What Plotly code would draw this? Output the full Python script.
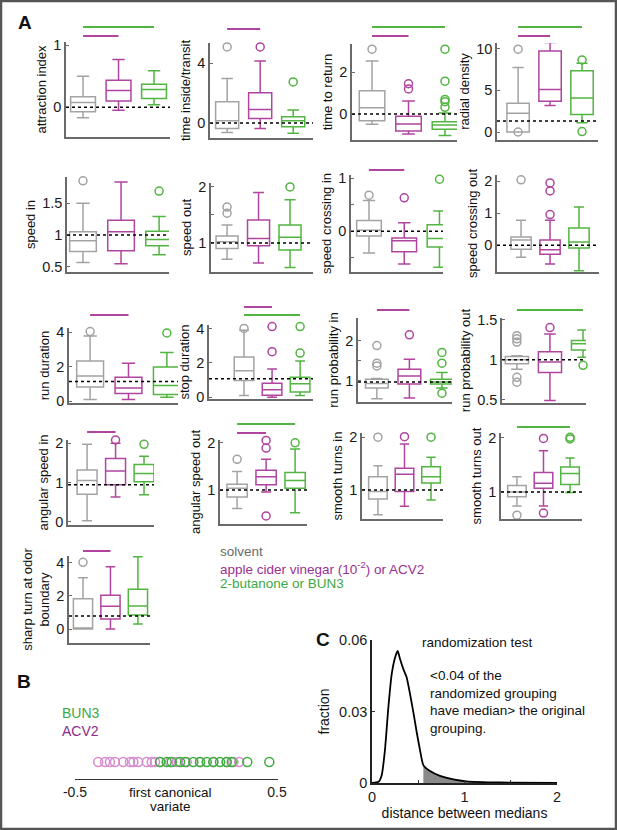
import plotly.graph_objects as go

W, H = 617, 830
GROUP_COLORS = ["#a3a3a3", "#b0449f", "#52b441"]
AXIS_GRAY = "#6a6a6a"
FONT = "Liberation Sans, Arial, sans-serif"

# ---------------- data ----------------
# box statistics per group: [solvent, ACV2, BUN3]
attraction_index = dict(lo=[-0.17, -0.05, 0.04], q1=[-0.075, 0.10, 0.14], med=[0.075, 0.27, 0.285],
                        q3=[0.17, 0.435, 0.37], hi=[0.50, 0.77, 0.585], out=[[], [], []], ref=0)
time_inside = dict(lo=[-0.64, -0.36, -0.69], q1=[-0.36, 0.31, -0.24], med=[0.16, 0.91, 0.16],
                   q3=[1.42, 2.02, 0.42], hi=[2.98, 4.15, 0.87], out=[[5.09], [5.09], [2.75]], ref=0)
time_to_return = dict(lo=[-0.49, -0.95, -1.03], q1=[-0.32, -0.81, -0.73], med=[0.30, -0.48, -0.52],
                      q3=[1.11, -0.10, -0.37], hi=[2.54, 0.63, 0.05],
                      out=[[3.1], [1.45, 1.2], [3.1, 1.57, 0.7, 0.59, 0.32]], ref=0)
radial_density = dict(lo=[0, 3.2, 1.1], q1=[0, 3.7, 2.1], med=[2.25, 5.1, 4.1], q3=[3.45, 9.75, 7.35],
                      hi=[7.75, 10.75, 8.28], out=[[9.96, 0], [], [8.67, 0.05]], ref=1.33)
speed_in = dict(lo=[0.57, 0.55, 0.69], q1=[0.74, 0.755, 0.83], med=[0.91, 1.05, 0.93],
                q3=[1.05, 1.23, 1.06], hi=[1.5, 1.83, 1.29], out=[[1.85], [], [1.69]], ref=1)
speed_out = dict(lo=[0.71, 0.64, 0.56], q1=[0.90, 0.95, 0.875], med=[1.02, 1.08, 1.10],
                 q3=[1.125, 1.41, 1.32], hi=[1.32, 1.90, 1.77], out=[[1.64, 1.53], [2.08], [2.0]], ref=1)
speed_crossing_in = dict(lo=[-0.41, -0.62, -0.68], q1=[-0.09, -0.39, -0.30], med=[0.02, -0.18, -0.14],
                         q3=[0.20, -0.13, 0.12], hi=[0.58, 0.16, 0.38], out=[[0.68], [0.63], [0.98]], ref=0)
speed_crossing_out = dict(lo=[-0.38, -0.59, -0.80], q1=[-0.13, -0.28, -0.09], med=[0.16, -0.14, 0.10],
                          q3=[0.26, 0.16, 0.54], hi=[0.78, 0.78, 1.20],
                          out=[[2.05], [1.95, 1.70, 0.96], []], ref=0)
run_duration = dict(lo=[0.11, 0.11, 0.24], q1=[0.83, 0.45, 0.39], med=[1.47, 0.77, 0.92],
                    q3=[2.33, 1.39, 1.99], hi=[3.79, 2.21, 2.83], out=[[4.04], [], [3.96]], ref=1.14)
stop_duration = dict(lo=[0.11, 0.0, 0.11], q1=[0.97, 0.12, 0.30], med=[1.54, 0.44, 0.78],
                     q3=[2.34, 0.81, 1.16], hi=[3.9, 1.64, 2.11],
                     out=[[4.0], [4.11, 2.65], [4.11, 2.57]], ref=1.07)
run_prob_in = dict(lo=[0.55, 0.57, 0.82], q1=[0.82, 0.92, 0.92], med=[0.93, 1.12, 0.97],
                   q3=[1.04, 1.29, 1.04], hi=[1.06, 1.54, 1.21],
                   out=[[1.88, 1.44, 1.37], [2.15], [1.71, 1.44, 0.69]], ref=0.97)
run_prob_out = dict(lo=[0.88, 0.49, 1.03], q1=[0.95, 0.84, 1.12], med=[1.0, 0.97, 1.2],
                    q3=[1.04, 1.10, 1.24], hi=[1.05, 1.32, 1.37],
                    out=[[1.30, 1.26, 1.22, 0.78, 0.72], [1.40], [0.93]], ref=1)
angular_speed_in = dict(lo=[0.03, 0.63, 0.69], q1=[0.70, 0.94, 1.02], med=[1.05, 1.29, 1.23],
                        q3=[1.32, 1.61, 1.46], hi=[1.97, 2.0, 1.67], out=[[], [2.08], [1.97]], ref=0.94)
angular_speed_out = dict(lo=[0.61, 0.96, 0.52], q1=[0.85, 1.11, 1.04], med=[1.04, 1.28, 1.2],
                         q3=[1.12, 1.42, 1.37], hi=[1.39, 1.65, 1.87],
                         out=[[1.65], [2.05, 1.89, 0.45], [2.0]], ref=1)
smooth_turns_in = dict(lo=[0.53, 0.69, 0.81], q1=[0.83, 0.97, 1.13], med=[0.97, 1.3, 1.25],
                       q3=[1.25, 1.41, 1.44], hi=[1.46, 1.87, 1.62], out=[[2.0], [2.01], [2.0]], ref=1)
smooth_turns_out = dict(lo=[0.74, 0.74, 0.99], q1=[0.91, 1.07, 1.14], med=[1.0, 1.16, 1.34],
                        q3=[1.12, 1.36, 1.46], hi=[1.28, 1.76, 1.63],
                        out=[[0.57], [1.99, 0.61], [2.01, 1.98]], ref=1)
sharp_turn = dict(lo=[0, 0, 0.3], q1=[0, 0.6, 0.84], med=[0, 1.37, 1.39], q3=[1.83, 2.03, 2.39],
                  hi=[3.09, 3.76, 4.36], out=[[4.02], [], []], ref=0.78)

# panel B: first canonical variate per animal
cv_acv2 = [-0.385, -0.351, -0.327, -0.302, -0.261, -0.228, -0.211, -0.187, -0.145, -0.120,
           -0.104, -0.079, -0.030, 0.003, 0.053, 0.119, 0.185, 0.251, 0.284, 0.313]
cv_bun3 = [-0.079, -0.046, -0.021, 0.020, 0.045, 0.086, 0.119, 0.152, 0.185, 0.218,
           0.251, 0.276, 0.353, 0.462]

# panel C: randomization distribution
dist_x = [0, 0.07, 0.105, 0.14, 0.177, 0.213, 0.249, 0.278, 0.303, 0.339, 0.375, 0.411,
          0.447, 0.483, 0.519, 0.555, 0.627, 0.735, 0.879, 1.02, 1.38, 2.0]
dist_frac = [0, 0.0005, 0.0033, 0.0138, 0.0318, 0.0457, 0.0526, 0.0554, 0.052, 0.0478, 0.0443,
             0.0374, 0.0297, 0.0214, 0.0138, 0.0075, 0.005, 0.003, 0.0015, 0.0007, 0.0002, 0]
observed_distance = 0.555

# ---------------- panel layout (pixel boxes: x0, x1, ytop, ybottom) ----------------
PANELS = [
    ("attraction index", attraction_index, (66, 170, 42, 137), (0.52, 3.45), (-0.48, 1.05), [0, 1], None, [(2, 27), (1, 36)]),
    ("time inside/transit", time_inside, (210, 313, 43, 138), (0.48, 3.6), (-1.0, 5.35), [0, 4], None, [(1, 29)]),
    ("time to return", time_to_return, (352, 457, 44, 140), (0.45, 3.33), (-1.24, 3.35), [0, 2], None, [(2, 27), (1, 36)]),
    ("radial density", radial_density, (497, 598, 43, 140), (0.34, 3.5), (-0.96, 10.7), [0, 5, 10], None, [(2, 27), (1, 36)]),
    ("speed in", speed_in, (67, 169, 177, 272), (0.58, 3.26), (0.42, 1.91), [0.5, 1, 1.5], None, []),
    ("speed out", speed_out, (211, 313, 183, 272), (0.49, 3.73), (0.48, 2.07), [1, 1.5, 2], ["1", " ", "2"], []),
    ("speed crossing in", speed_crossing_in, (351, 443, 175, 272), (0.49, 3.1), (-0.77, 1.06), [-0.5, 0, 0.5, 1], [" ", "0", " ", "1"], [(1, 170)]),
    ("speed crossing out", speed_crossing_out, (497, 599, 175, 272), (0.17, 3.69), (-0.84, 2.2), [0, 1, 2], None, []),
    ("run duration", run_duration, (69, 178, 328, 403), (0.45, 3.29), (-0.1, 4.25), [0, 2, 4], None, [(1, 315)]),
    ("stop duration", stop_duration, (209, 313, 325, 399), (-0.25, 3.46), (-0.1, 4.2), [0, 2, 4], None, [(1, 307), (2, 315)]),
    ("run probability in", run_prob_in, (358, 452, 318, 402), (0.42, 3.31), (0.47, 2.57), [1, 1.5, 2], ["1", " ", "2"], [(1, 310)]),
    ("run probability out", run_prob_out, (502, 586, 318, 403), (0.55, 3.09), (0.46, 1.52), [0.5, 1, 1.5], None, [(2, 310)]),
    ("angular speed in", angular_speed_in, (68, 154, 440, 525), (0.33, 3.35), (-0.08, 2.08), [0, 1, 2], None, [(1, 432)]),
    ("angular speed out", angular_speed_out, (220, 307, 440, 524), (0.41, 3.41), (0.28, 2.06), [1, 2], None, [(2, 424), (1, 433)]),
    ("smooth turns in", smooth_turns_in, (362, 443, 433, 519), (0.4, 3.45), (0.45, 2.08), [1, 2], None, []),
    ("smooth turns out", smooth_turns_out, (501, 582, 433, 519), (0.4, 3.45), (0.5, 2.09), [1, 2], None, [(2, 427)]),
    ("sharp turn at odor<br>boundary", sharp_turn, (69, 150, 556, 643), (0.49, 3.44), (-0.84, 4.4), [0, 2, 4], None, [(1, 551)]),
]


def px_x(p):
    return p / W


def px_y(p):
    return 1 - p / H


def ax_names(k):
    s = "" if k == 1 else str(k)
    return "x" + s, "y" + s, "xaxis" + s, "yaxis" + s


fig = go.Figure()
shapes, annotations, axes = [], [], {}

for k, (title, st, dom, xr, yr, tv, tt, sig) in enumerate(PANELS, start=1):
    xa, ya, xkey, ykey = ax_names(k)
    for g in range(3):
        fig.add_trace(go.Box(
            x=[g + 1], q1=[st["q1"][g]], median=[st["med"][g]], q3=[st["q3"][g]],
            lowerfence=[st["lo"][g]], upperfence=[st["hi"][g]], width=0.7,
            line=dict(color=GROUP_COLORS[g], width=1.5), fillcolor="rgba(0,0,0,0)",
            whiskerwidth=0.5, boxpoints=False, xaxis=xa, yaxis=ya, hoverinfo="skip"))
        if st["out"][g]:
            fig.add_trace(go.Scatter(
                x=[g + 1] * len(st["out"][g]), y=st["out"][g], mode="markers", cliponaxis=False,
                marker=dict(symbol="circle-open", size=8, color=GROUP_COLORS[g], line=dict(width=1.5)),
                xaxis=xa, yaxis=ya, hoverinfo="skip"))
    x0, x1, yt, yb = dom
    axes[xkey] = dict(domain=[px_x(x0), px_x(x1)], range=list(xr), anchor=ya, showticklabels=False,
                      ticks="", showline=True, linecolor=AXIS_GRAY, linewidth=1.5, zeroline=False,
                      showgrid=False, automargin=False, fixedrange=True)
    axes[ykey] = dict(domain=[px_y(yb), px_y(yt)], range=list(yr), anchor=xa, tickvals=tv,
                      ticktext=tt if tt else [("%g" % v) for v in tv],
                      ticks="inside", ticklen=3, tickcolor=AXIS_GRAY, showline=True, linecolor=AXIS_GRAY,
                      linewidth=1.5, zeroline=False, showgrid=False, automargin=False,
                      tickfont=dict(size=14.5, color="#1a1a1a"),
                      title=dict(text=title, font=dict(size=13, color="#111"), standoff=4))
    shapes.append(dict(type="line", xref=xa + " domain", x0=0, x1=1, yref=ya, y0=st["ref"], y1=st["ref"],
                       line=dict(color="black", width=1.5, dash="3px,3px")))
    for j, py in sig:
        shapes.append(dict(type="line", xref=xa, x0=1, x1=j + 1, yref="paper", y0=px_y(py), y1=px_y(py),
                           line=dict(color=GROUP_COLORS[j], width=2)))

# ---------------- panel B ----------------
kB = 18
xa, ya, xkey, ykey = ax_names(kB)
fig.add_trace(go.Scatter(x=cv_acv2, y=[0.5] * len(cv_acv2), mode="markers", cliponaxis=False,
                         marker=dict(symbol="circle-open", size=9, color="#d48ccf", line=dict(width=1.5)),
                         xaxis=xa, yaxis=ya, hoverinfo="skip"))
fig.add_trace(go.Scatter(x=cv_bun3, y=[0.5] * len(cv_bun3), mode="markers", cliponaxis=False,
                         marker=dict(symbol="circle-open", size=9, color="#3cae3c", line=dict(width=1.5)),
                         xaxis=xa, yaxis=ya, hoverinfo="skip"))
axes[xkey] = dict(domain=[px_x(75), px_x(278)], range=[-0.5, 0.505], anchor=ya, tickvals=[-0.5, 0.5],
                  ticktext=["-0.5", "0.5"], ticks="", showline=True, linecolor="#333", linewidth=1.2,
                  zeroline=False, showgrid=False, automargin=False, tickfont=dict(size=14, color="#1a1a1a"))
axes[ykey] = dict(domain=[px_y(779), px_y(745)], range=[0, 1], anchor=xa, visible=False)

# ---------------- panel C ----------------
kC = 19
xa, ya, xkey, ykey = ax_names(kC)
shade_x = [x for x in dist_x if x >= observed_distance]
shade_y = [y for x, y in zip(dist_x, dist_frac) if x >= observed_distance]
fig.add_trace(go.Scatter(x=shade_x, y=shade_y, mode="lines", fill="tozeroy", fillcolor="#8a8a8a",
                         line=dict(width=0, color="#8a8a8a"), xaxis=xa, yaxis=ya, hoverinfo="skip"))
fig.add_trace(go.Scatter(x=dist_x, y=dist_frac, mode="lines", line=dict(color="black", width=1.8,
                         shape="spline", smoothing=0.5), xaxis=xa, yaxis=ya, hoverinfo="skip"))
axes[xkey] = dict(domain=[px_x(372), px_x(557)], range=[0, 2], anchor=ya, tickvals=[0, 0.5, 1, 1.5, 2],
                  ticktext=["0", " ", "1", " ", "2"], ticks="inside", ticklen=3, tickcolor="#333",
                  showline=True, linecolor="#222", linewidth=1.5, zeroline=False, showgrid=False,
                  automargin=False, tickfont=dict(size=14.5, color="#1a1a1a"),
                  title=dict(text="distance between medians", font=dict(size=14, color="#111"), standoff=0))
axes[ykey] = dict(domain=[px_y(783), px_y(640)], range=[0, 0.06], anchor=xa, tickvals=[0, 0.03, 0.06],
                  ticktext=["0", "0.03", "0.06"], ticks="inside", ticklen=3, tickcolor="#333",
                  showline=True, linecolor="#222", linewidth=1.5, zeroline=False, showgrid=False,
                  automargin=False, tickfont=dict(size=14.5, color="#1a1a1a"),
                  title=dict(text="fraction", font=dict(size=14, color="#111"), standoff=6))


def note(text, x, y, size=13, color="#111", xanchor="left", yanchor="middle", bold=False, align="left"):
    annotations.append(dict(text=("<b>%s</b>" % text) if bold else text, x=px_x(x), y=px_y(y),
                            xref="paper", yref="paper", xanchor=xanchor, yanchor=yanchor, align=align,
                            showarrow=False, font=dict(size=size, color=color, family=FONT)))


note("A", 16, 22, size=19, bold=True)
note("B", 15, 681, size=19, bold=True)
note("C", 314, 639, size=19, bold=True)

note("solvent", 218, 551, size=13.5, color="#6b6b6b")
note("apple cider vinegar (10<sup>-2</sup>) or ACV2", 218, 568, size=13.5, color="#9a3092")
note("2-butanone or BUN3", 218, 583, size=13.5, color="#3ea83f")

note("BUN3", 60, 713, size=14, color="#3ea83f")
note("ACV2", 60, 731, size=14, color="#8e2b8c")
note("first canonical", 170, 792, size=13.5, xanchor="center")
note("variate", 170, 806, size=13.5, xanchor="center")

note("randomization test", 420, 642, size=13.5)
note("&lt;0.04 of the<br>randomized grouping<br>have median&gt; the original<br>grouping.", 428, 666,
     size=13.5, yanchor="top")

shapes.append(dict(type="rect", xref="paper", yref="paper", x0=px_x(1), x1=px_x(W - 1), y0=px_y(H - 1),
                   y1=px_y(1), line=dict(color="#555", width=2.5), layer="above"))

fig.update_layout(width=W, height=H, margin=dict(l=0, r=0, t=0, b=0), paper_bgcolor="white",
                  plot_bgcolor="rgba(0,0,0,0)", showlegend=False, boxmode="overlay",
                  font=dict(family=FONT, size=13, color="#111"), shapes=shapes, annotations=annotations,
                  **axes)

fig.write_html("out.html", config=dict(displayModeBar=False),
               post_script="document.body.style.margin='0px';document.body.style.overflow='hidden';")
